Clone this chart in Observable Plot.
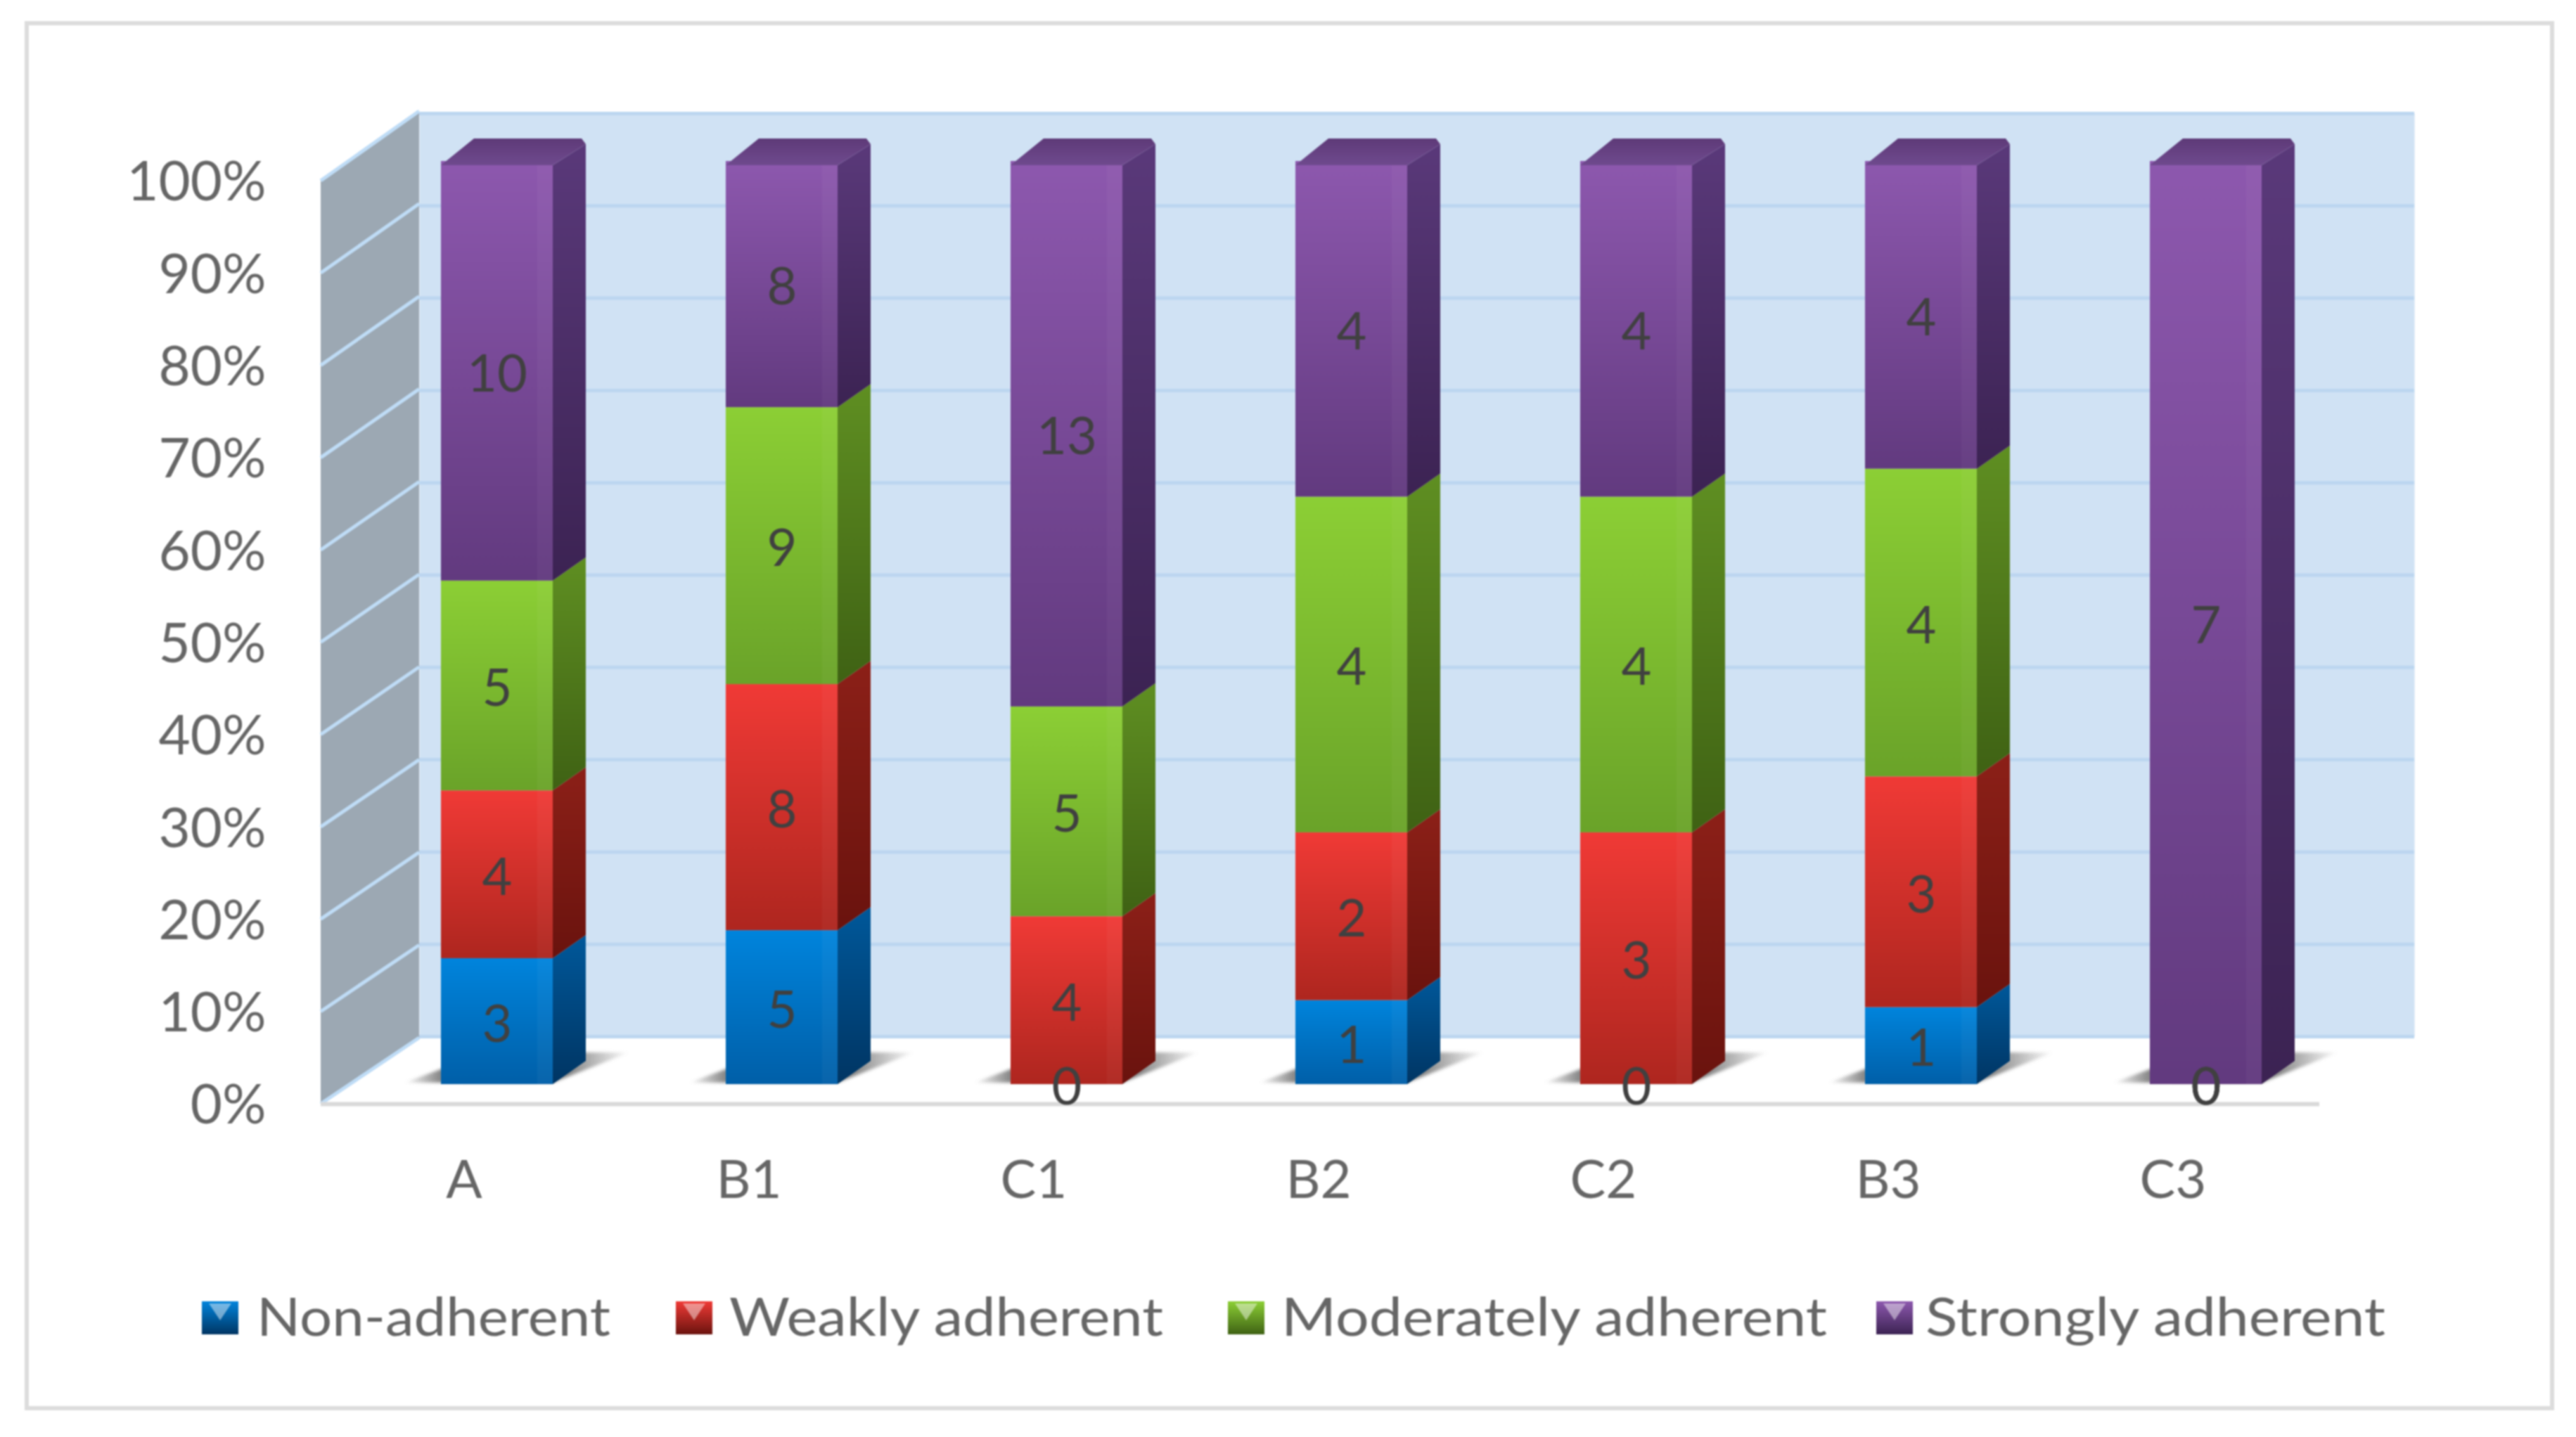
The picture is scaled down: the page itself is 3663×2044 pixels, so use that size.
<!DOCTYPE html>
<html>
<head>
<meta charset="utf-8">
<script src="https://cdn.jsdelivr.net/npm/d3@7"></script>
<script src="https://cdn.jsdelivr.net/npm/@observablehq/plot@0.6"></script>
<style>
  html, body { margin: 0; background: #fff; }
  #wrap { position: relative; width: 3663px; height: 2044px; overflow: hidden; font-family: Lato, sans-serif; filter: blur(0.9px); }
  #frame { position: absolute; left: 35px; top: 30px; width: 3585px; height: 1964px; border: 6px solid #dcdcdc; }
  #chart { position: absolute; left: 0; top: 0; }
  #chart svg { display: block; max-width: none; }
  .swatch { position: absolute; top: 1851px; width: 52px; height: 47px; overflow: hidden; }
  .swatch i { position: absolute; left: 10px; top: 3px; width: 32px; height: 24px; clip-path: polygon(0 0, 100% 0, 50% 100%); opacity: .45; background: #fff; }
  .lg { position: absolute; top: 1827px; font-size: 75px; line-height: 88px; color: #666; white-space: nowrap; transform-origin: 0 50%; }
</style>
</head>
<body>
<div id="wrap"><div id="frame"></div><div id="chart"></div></div>
<script>
const categories = ["A", "B1", "C1", "B2", "C2", "B3", "C3"];
const seriesNames = ["Non-adherent", "Weakly adherent", "Moderately adherent", "Strongly adherent"];
const nonAdherent = [3, 5, 0, 1, 0, 1, 0];
const weaklyAdherent = [4, 8, 4, 2, 3, 3, 0];
const moderatelyAdherent = [5, 9, 5, 4, 4, 4, 0];
const stronglyAdherent = [10, 8, 13, 4, 4, 4, 7];
const yTicks = [0, .1, .2, .3, .4, .5, .6, .7, .8, .9, 1];

const front = [["#0084dc", "#005fa8"], ["#f03a36", "#ae261f"], ["#8ccf35", "#6aa329"], ["#8d58ae", "#623a7f"]];
const side = [["#00589a", "#003563"], ["#8c2018", "#6a130e"], ["#5f8f22", "#3f6214"], ["#5a397a", "#3c2353"]];
const legendLayout = [
  {swatch: 287, text: 365, width: 503},
  {swatch: 961, text: 1037, width: 617},
  {swatch: 1746, text: 1822, width: 776},
  {swatch: 2668, text: 2738, width: 654}
];

const tidy = seriesNames.flatMap((s, k) =>
  [nonAdherent, weaklyAdherent, moderatelyAdherent, stronglyAdherent][k].map((v, i) => ({cat: categories[i], series: s, k, value: v})));

const NS = "http://www.w3.org/2000/svg";
const el = (name, attrs, parent) => {
  const n = document.createElementNS(NS, name);
  for (const a in attrs) n.setAttribute(a, attrs[a]);
  if (parent) parent.appendChild(n);
  return n;
};
const grad = (defs, id, c1, c2) => {
  const g = el("linearGradient", {id, x1: 0, y1: 0, x2: 0, y2: 1}, defs);
  el("stop", {offset: 0, "stop-color": c1}, g);
  el("stop", {offset: 1, "stop-color": c2}, g);
};

function defsMark() {
  const defs = el("defs", {});
  front.forEach((c, i) => grad(defs, "f" + i, c[0], c[1]));
  side.forEach((c, i) => grad(defs, "s" + i, c[0], c[1]));
  grad(defs, "topface", "#5e3a78", "#6f4a8e");
  const sh = el("linearGradient", {id: "shadow", x1: 0, y1: 0, x2: 1, y2: 0}, defs);
  [[0, 0], [.16, .95], [.72, 1], [1, 0]].forEach(([o, a]) =>
    el("stop", {offset: o, "stop-color": "#808080", "stop-opacity": a}, sh));
  const blur = el("filter", {id: "soft", x: "-10%", y: "-30%", width: "120%", height: "160%"}, defs);
  el("feGaussianBlur", {stdDeviation: 2}, blur);
  return defs;
}

const wallDx = 140, wallDyTop = -99, wallDyBottom = -94;
const inset = 123, barDx = 47, barDy = -28;

// Left wall, projected from the y scale
function wallMark(index, {y}, values, {marginLeft}) {
  const g = el("g", {});
  const L = marginLeft;
  const backY = v => y(v) + wallDyBottom + (wallDyTop - wallDyBottom) * v;
  el("polygon", {points: `${L},${y(1)} ${L + wallDx},${backY(1)} ${L + wallDx},${backY(0)} ${L},${y(0)}`, fill: "#9ca8b3"}, g);
  for (const v of yTicks)
    el("line", {x1: L, y1: y(v), x2: L + wallDx, y2: backY(v), stroke: "#bfdcf6", "stroke-width": 5}, g);
  return g;
}

function shadowMark(index, {x, y}) {
  const g = el("g", {filter: "url(#soft)"});
  const y0 = y(0);
  for (const c of categories) {
    const b = x(c);
    el("polygon", {
      points: `${b + 118},${y0 - 30} ${b + 234},${y0 - 73} ${b + 438},${y0 - 73} ${b + 329},${y0 - 30}`,
      fill: "url(#shadow)"
    }, g);
  }
  return g;
}

function cuboid(index, scales, values, dims, ctx, next) {
  const g = next(index, scales, values, dims, ctx);
  g.setAttribute("transform", `translate(${barDx},${barDy})`);
  [...g.querySelectorAll("rect")].forEach(r => {
    const i = d3.select(r).datum();
    const k = tidy[i].k;
    const x = +r.getAttribute("x"), w = +r.getAttribute("width");
    const yy = +r.getAttribute("y"), h = +r.getAttribute("height");
    if (!(h > 0)) return;
    const isTop = k === seriesNames.length - 1;
    el("polygon", {
      points: `${x + w},${yy + (isTop ? 6 : 0)} ${x + w + barDx},${yy + (isTop ? -24 : -33)} ${x + w + barDx},${yy + h - 33} ${x + w},${yy + h}`,
      fill: `url(#s${k})`
    }, g);
    el("rect", {x: x + w - 22, y: yy, width: 22, height: h, fill: "#fff", "fill-opacity": .035}, g);
    if (isTop) {
      el("polygon", {
        points: `${x},${yy + 6} ${x + barDx},${yy - 32} ${x + w + barDx - 6},${yy - 32} ${x + w + barDx},${yy - 24} ${x + w},${yy + 6}`,
        fill: "url(#topface)"
      }, g);
    }
  });
  return g;
}

const plot = Plot.plot({
  width: 3663,
  height: 1780,
  marginLeft: 456,
  marginRight: 370,
  marginTop: 257,
  marginBottom: 210,
  style: {fontFamily: "Lato, sans-serif", background: "transparent"},
  x: {domain: categories, padding: 0},
  y: {domain: [0, 1]},
  color: {domain: seriesNames, range: seriesNames.map((s, i) => `url(#f${i})`)},
  marks: [
    defsMark,
    Plot.frame({fill: "#d0e2f4", stroke: null, dx: wallDx, dy: -96}),
    Plot.ruleY(yTicks, {stroke: "#bcd6f0", strokeWidth: 5, dx: wallDx, dy: -96}),
    wallMark,
    shadowMark,
    Plot.ruleY([0], {stroke: "#d9d9d9", strokeWidth: 6, insetRight: -5}),
    Plot.barY(tidy, Plot.stackY({
      x: "cat", y: "value", z: "series", fill: "series",
      order: null, offset: "normalize",
      insetLeft: inset, insetRight: inset,
      render: cuboid
    })),
    Plot.text(tidy, Plot.stackY({
      x: "cat", y: "value", z: "series", text: d => String(d.value),
      order: null, offset: "normalize",
      dx: barDx, dy: -23, fontSize: 74, fill: "#404040"
    })),
    Plot.axisY(yTicks, {tickSize: 0, tickPadding: 78, tickFormat: ".0%", fontSize: 78, color: "#666", label: null, dy: 3}),
    Plot.axisX({tickSize: 0, tickPadding: 80, fontSize: 76, color: "#666", label: null})
  ]
});
document.getElementById("chart").appendChild(plot);

const wrap = document.getElementById("wrap");
seriesNames.forEach((s, i) => {
  const sw = document.createElement("div");
  sw.className = "swatch";
  sw.style.left = legendLayout[i].swatch + "px";
  sw.style.background = `linear-gradient(${front[i][0]}, ${side[i][1]})`;
  sw.appendChild(document.createElement("i"));
  wrap.appendChild(sw);
  const t = document.createElement("div");
  t.className = "lg";
  t.textContent = s;
  t.style.left = legendLayout[i].text + "px";
  wrap.appendChild(t);
  t.style.transform = `scaleX(${legendLayout[i].width / t.getBoundingClientRect().width})`;
});
</script>
</body>
</html>
